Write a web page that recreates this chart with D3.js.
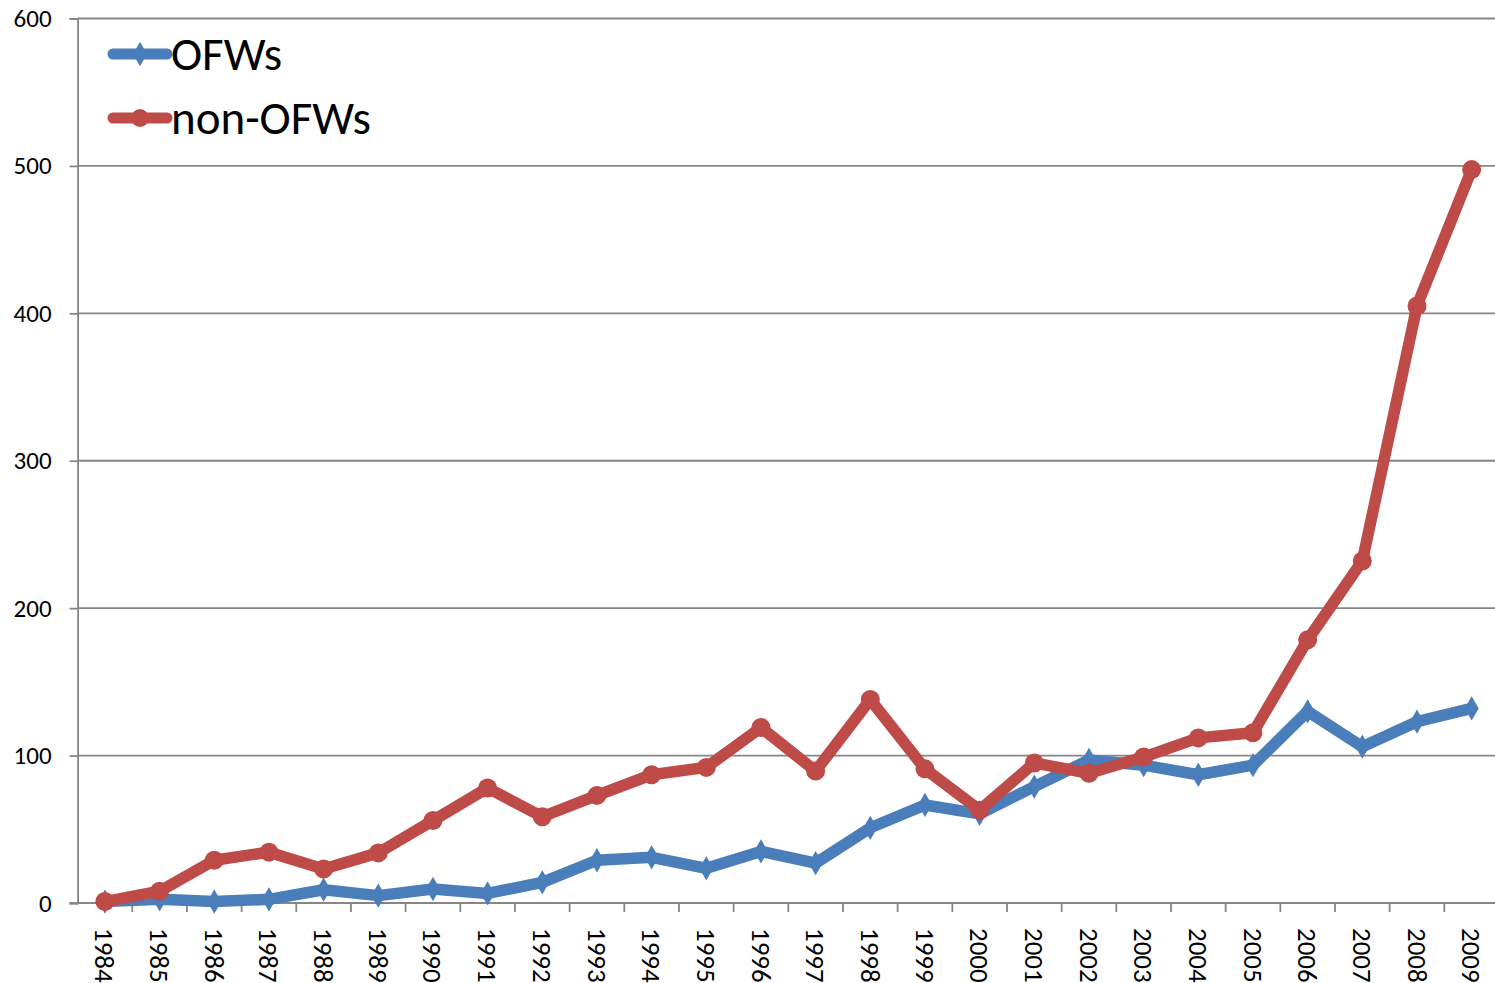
<!DOCTYPE html>
<html>
<head>
<meta charset="utf-8">
<script src="https://cdn.jsdelivr.net/npm/d3@7"></script>
<style>
  body { margin: 0; background: #fff; }
  text { font-family: Carlito, "Liberation Sans", "DejaVu Sans", sans-serif; }
</style>
</head>
<body>
<svg width="1495" height="983"></svg>
<script>
// data
var years = ["1984","1985","1986","1987","1988","1989","1990","1991","1992","1993","1994","1995","1996",
  "1997","1998","1999","2000","2001","2002","2003","2004","2005","2006","2007","2008","2009"];
var ofws = [1, 2.5, 1, 2.5, 9, 5, 9.5, 6.5, 14, 29, 31, 23.5, 35, 27, 51, 66.5, 60.5, 79, 97, 93.5, 87, 93.5, 130, 106, 123, 132];
var nonOfws = [1, 8, 29, 34.5, 23, 34, 56, 78, 58.5, 73, 87, 92, 119, 89.5, 138, 91, 63, 95, 88, 99, 112, 115.5, 178.5, 232, 405, 497.5];
var yTicks = [0, 100, 200, 300, 400, 500, 600];
var seriesNames = ["OFWs", "non-OFWs"];

var svg = d3.select("svg");
var plotLeft = 77.6, plotRight = 1499, plotTop = 18.5, plotBottom = 903;

var x = d3.scaleBand().domain(years).range([plotLeft, plotRight]);
var y = d3.scaleLinear().domain([0, 600]).range([plotBottom, plotTop]);

// gridlines
svg.append("g")
  .selectAll("line")
  .data(yTicks.slice(1))
  .enter()
  .append("line")
  .attr("x1", plotLeft).attr("x2", plotRight)
  .attr("y1", function(d){ return y(d); })
  .attr("y2", function(d){ return y(d); })
  .attr("stroke", "#868686")
  .attr("stroke-width", 1.8);

// y axis
var yAxis = svg.append("g")
  .attr("transform", "translate(" + plotLeft + ",0)")
  .call(d3.axisLeft(y).tickValues(yTicks).tickSize(8).tickPadding(18));
yAxis.select(".domain").attr("stroke", "#868686").attr("stroke-width", 1.8);
yAxis.selectAll(".tick line").attr("stroke", "#868686").attr("stroke-width", 1.8);
yAxis.selectAll(".tick text").attr("font-size", 25).attr("fill", "#000")
  .attr("font-family", "Carlito, 'Liberation Sans', sans-serif");

// x axis, ticks between categories
var xAxis = svg.append("g")
  .attr("transform", "translate(0," + plotBottom + ")");
xAxis.append("line")
  .attr("x1", plotLeft - 8).attr("x2", plotRight)
  .attr("stroke", "#868686").attr("stroke-width", 1.8);
xAxis.selectAll("line.tk")
  .data(years.slice(1))
  .enter()
  .append("line")
  .attr("class", "tk")
  .attr("x1", function(d){ return x(d); })
  .attr("x2", function(d){ return x(d); })
  .attr("y1", 0).attr("y2", 9)
  .attr("stroke", "#868686").attr("stroke-width", 1.8);
xAxis.selectAll("text")
  .data(years)
  .enter()
  .append("text")
  .attr("transform", function(d){
    return "translate(" + (x(d) + x.bandwidth() / 2) + ",25) rotate(90)";
  })
  .attr("dy", "0.35em")
  .attr("font-size", 27)
  .attr("fill", "#000")
  .text(function(d){ return d; });

var line = d3.line()
  .x(function(d, i){ return x(years[i]) + x.bandwidth() / 2; })
  .y(function(d){ return y(d); });

var blue = "#4a7ebb", red = "#be4b48";
var diamond = d3.symbol().type(d3.symbolDiamond).size(170);

// OFWs
svg.append("path")
  .datum(ofws)
  .attr("d", line)
  .attr("fill", "none")
  .attr("stroke", blue)
  .attr("stroke-width", 11.5)
  .attr("stroke-linejoin", "round");
svg.append("g")
  .selectAll("path")
  .data(ofws)
  .enter()
  .append("path")
  .attr("d", diamond)
  .attr("transform", function(d, i){
    return "translate(" + (x(years[i]) + x.bandwidth() / 2) + "," + y(d) + ")";
  })
  .attr("fill", blue);

// non-OFWs
svg.append("path")
  .datum(nonOfws)
  .attr("d", line)
  .attr("fill", "none")
  .attr("stroke", red)
  .attr("stroke-width", 11.5)
  .attr("stroke-linejoin", "round");
svg.append("g")
  .selectAll("circle")
  .data(nonOfws)
  .enter()
  .append("circle")
  .attr("cx", function(d, i){ return x(years[i]) + x.bandwidth() / 2; })
  .attr("cy", function(d){ return y(d); })
  .attr("r", 9.5)
  .attr("fill", red);

// legend
var legend = svg.append("g")
  .selectAll("g")
  .data(seriesNames)
  .enter()
  .append("g")
  .attr("transform", function(d, i){ return "translate(113," + (54 + i * 64) + ")"; });
legend.append("line")
  .attr("x1", 0).attr("x2", 54)
  .attr("stroke", function(d, i){ return i == 0 ? blue : red; })
  .attr("stroke-width", 11)
  .attr("stroke-linecap", "round");
legend.each(function(d, i){
  var g = d3.select(this);
  if (i == 0) {
    g.append("path").attr("d", diamond).attr("transform", "translate(27,0)").attr("fill", blue);
  } else {
    g.append("circle").attr("cx", 27).attr("r", 9).attr("fill", red);
  }
});
legend.append("text")
  .attr("x", 58)
  .attr("dy", "0.35em")
  .attr("font-size", 47)
  .attr("fill", "#000")
  .text(function(d){ return d; });
</script>
</body>
</html>
